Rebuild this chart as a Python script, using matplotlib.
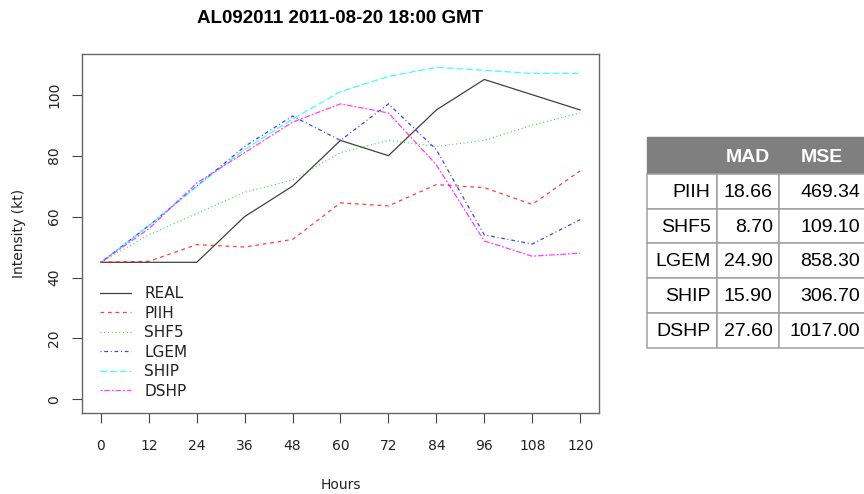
import matplotlib
matplotlib.use("Agg")
import matplotlib.pyplot as plt
from matplotlib.patches import Rectangle

# forecast hours and intensities (kt)
hours = [0, 12, 24, 36, 48, 60, 72, 84, 96, 108, 120]
real = [45, 45, 45, 60, 70, 85, 80, 95, 105, 100, 95]
piih = [45, 45.3, 50.8, 50, 52.5, 64.5, 63.5, 70.5, 69.5, 64, 75]
shf5 = [45, 54, 61, 68, 72, 81, 85, 83, 85, 90, 94]
lgem = [45, 57, 70, 83, 93, 85, 97, 82, 54, 51, 59]
ship = [45, 57, 70, 82, 92, 101, 106, 109, 108, 107, 107]
dshp = [45, 56, 71, 81, 91, 97, 94, 77, 52, 47, 48]

# error summary per model
models = ["PIIH", "SHF5", "LGEM", "SHIP", "DSHP"]
mad = [18.66, 8.70, 24.90, 15.90, 27.60]
mse = [469.34, 109.10, 858.30, 306.70, 1017.00]
table_cols = ["", "MAD", "MSE"]

title = "AL092011 2011-08-20 18:00 GMT"

plt.rcParams['font.family'] = 'DejaVu Sans'

W, H = 864, 494
fig = plt.figure(figsize=(W / 100, H / 100), dpi=100)

# plot region in pixels
left, right, top, bottom = 81.7, 599.3, 54, 412.7
ax = fig.add_axes([left / W, 1 - bottom / H, (right - left) / W, (bottom - top) / H])

# R lty 1..6 with colours 1..6
series = [
    ("REAL", real, "black", "-"),
    ("PIIH", piih, "red", (0, (3, 3))),
    ("SHF5", shf5, "#00cd00", (0, (0.8, 2.2))),
    ("LGEM", lgem, "blue", (0, (0.8, 2.2, 3, 2.2))),
    ("SHIP", ship, "cyan", (0, (5.5, 2.2))),
    ("DSHP", dshp, "magenta", (0, (1.5, 1.5, 4.5, 1.5))),
]
for name, vals, col, ls in series:
    ax.plot(hours, vals, color=col, linestyle=ls, lw=0.9, alpha=0.75, label=name)

# R style 4% padding around the data range
ymax = max(max(s[1]) for s in series)
ypad = 0.04 * ymax
ax.set_ylim(0 - ypad, ymax + ypad)
xpad = 0.04 * (hours[-1] - hours[0])
ax.set_xlim(hours[0] - xpad, hours[-1] + xpad)

ax.set_xticks(hours)
ax.set_yticks(range(0, 101, 20))
for sp in ax.spines.values():
    sp.set_color('#666666')
    sp.set_linewidth(1.0)
ax.tick_params(axis='x', length=7.2, width=0.8, color='#444444', pad=12, labelsize=10, labelcolor='#222222')
ax.tick_params(axis='y', length=7.2, width=0.8, color='#444444', pad=7.7, labelsize=10, labelcolor='#222222',
               labelrotation=90)
for lab in ax.get_yticklabels():
    lab.set_va('center')

leg = ax.legend(loc='upper left', bbox_to_anchor=((100 - left) / (right - left), (bottom - 286.4) / (bottom - top)),
                frameon=False, fontsize=11, handlelength=2.0, handletextpad=0.91, labelspacing=0.29,
                borderpad=0, borderaxespad=0)
for t in leg.get_texts():
    t.set_color('#222222')

fig.text(340.5 / W, 1 - 22.7 / H, title, ha='center', va='baseline', fontsize=13.5,
         fontweight='bold', family='Liberation Sans')
fig.text(340.5 / W, 1 - 488.5 / H, "Hours", ha='center', va='baseline', fontsize=10, color='#222222')
fig.text(19 / W, 1 - (top + bottom) / 2 / H, "Intensity (kt)", ha='center', va='center',
         rotation=90, fontsize=10, color='#222222')

# error table drawn in pixel coordinates
tab = fig.add_axes([0, 0, 1, 1])
tab.set_xlim(0, W)
tab.set_ylim(H, 0)
tab.axis('off')

col_edges = [646.7, 716.7, 778.7, 866]
row_edges = [137.3, 174, 208.7, 243.3, 278, 312.7, 348.3]
grid = '#a0a0a0'

tab.add_patch(Rectangle((col_edges[0], row_edges[0]), col_edges[-1] - col_edges[0],
                        row_edges[1] - row_edges[0], facecolor='#7f7f7f', edgecolor='#7f7f7f', lw=1))
for j, name in enumerate(table_cols):
    if name:
        cx = (col_edges[j] + col_edges[j + 1]) / 2
        tab.text(cx, (row_edges[0] + row_edges[1]) / 2 + 6, name, ha='center', va='baseline',
                 color='white', fontweight='bold', fontsize=14, family='Liberation Sans')

for i, m in enumerate(models):
    y0, y1 = row_edges[i + 1], row_edges[i + 2]
    cells = [m, "%.2f" % mad[i], "%.2f" % mse[i]]
    for j, txt in enumerate(cells):
        x0, x1 = col_edges[j], col_edges[j + 1]
        tab.add_patch(Rectangle((x0, y0), x1 - x0, y1 - y0, facecolor='white', edgecolor=grid, lw=1.1))
        tab.text(x1 - 6, (y0 + y1) / 2 + 5.5, txt, ha='right', va='baseline', fontsize=14,
                 family='Liberation Sans', color='black')

fig.savefig("out.png", dpi=100)
